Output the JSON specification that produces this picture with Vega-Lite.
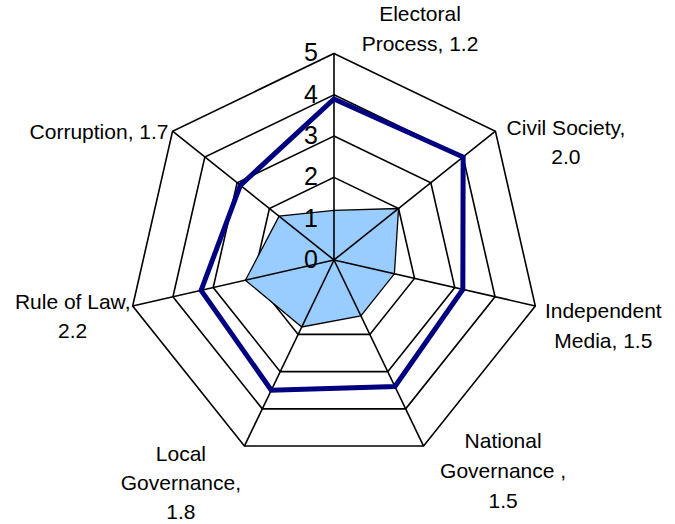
{
  "$schema": "https://vega.github.io/schema/vega-lite/v6.json",
  "width": 675,
  "height": 524,
  "padding": 0,
  "autosize": "none",
  "background": "white",
  "config": {"view": {"stroke": null}, "font": "Liberation Sans"},
  "datasets": {
    "axes": [
      {"i": 0, "name": "Electoral Process", "label": "Electoral\nProcess, 1.2", "score": 1.2, "avg": 3.9, "rings": [1, 2, 3, 4, 5]},
      {"i": 1, "name": "Civil Society", "label": "Civil Society,\n2.0", "score": 2.0, "avg": 4.0, "rings": [1, 2, 3, 4, 5]},
      {"i": 2, "name": "Independent Media", "label": "Independent\nMedia, 1.5", "score": 1.5, "avg": 3.2, "rings": [1, 2, 3, 4, 5]},
      {"i": 3, "name": "National Governance", "label": "National\nGovernance ,\n1.5", "score": 1.5, "avg": 3.4, "rings": [1, 2, 3, 4, 5]},
      {"i": 4, "name": "Local Governance", "label": "Local\nGovernance,\n1.8", "score": 1.8, "avg": 3.5, "rings": [1, 2, 3, 4, 5]},
      {"i": 5, "name": "Rule of Law", "label": "Rule of Law,\n2.2", "score": 2.2, "avg": 3.3, "rings": [1, 2, 3, 4, 5]},
      {"i": 6, "name": "Corruption", "label": "Corruption, 1.7", "score": 1.7, "avg": 2.9, "rings": [1, 2, 3, 4, 5]}
    ],
    "ticks": [{"t": 0}, {"t": 1}, {"t": 2}, {"t": 3}, {"t": 4}, {"t": 5}]
  },
  "data": {"name": "axes"},
  "transform": [
    {"calculate": "datum.i * 2 * PI / 7", "as": "ang"},
    {"calculate": "sin(datum.ang)", "as": "ux"},
    {"calculate": "cos(datum.ang)", "as": "uy"}
  ],
  "encoding": {
    "x": {"type": "quantitative", "scale": {"domain": [-8.087, 8.257], "nice": false, "zero": false}, "axis": null},
    "y": {"type": "quantitative", "scale": {"domain": [-6.392, 6.295], "nice": false, "zero": false}, "axis": null}
  },
  "layer": [
    {
      "transform": [
        {"flatten": ["rings"], "as": ["ring"]},
        {"calculate": "datum.ring * datum.ux", "as": "gx"},
        {"calculate": "datum.ring * datum.uy", "as": "gy"}
      ],
      "mark": {"type": "line", "interpolate": "linear-closed", "stroke": "black", "strokeWidth": 1.6},
      "encoding": {
        "x": {"field": "gx", "type": "quantitative"},
        "y": {"field": "gy", "type": "quantitative"},
        "detail": {"field": "ring", "type": "ordinal"},
        "order": {"field": "i", "type": "quantitative"}
      }
    },
    {
      "transform": [
        {"calculate": "datum.score * datum.ux", "as": "sx"},
        {"calculate": "datum.score * datum.uy", "as": "sy"}
      ],
      "mark": {"type": "line", "interpolate": "linear-closed", "fill": "#99CCFF", "stroke": "black", "strokeWidth": 1.3},
      "encoding": {
        "x": {"field": "sx", "type": "quantitative"},
        "y": {"field": "sy", "type": "quantitative"},
        "order": {"field": "i", "type": "quantitative"}
      }
    },
    {
      "transform": [
        {"calculate": "5 * datum.ux", "as": "ex"},
        {"calculate": "5 * datum.uy", "as": "ey"},
        {"calculate": "0", "as": "o"}
      ],
      "mark": {"type": "rule", "stroke": "black", "strokeWidth": 1.6},
      "encoding": {
        "x": {"field": "o", "type": "quantitative"},
        "y": {"field": "o", "type": "quantitative"},
        "x2": {"field": "ex"},
        "y2": {"field": "ey"}
      }
    },
    {
      "transform": [
        {"calculate": "datum.avg * datum.ux", "as": "ax"},
        {"calculate": "datum.avg * datum.uy", "as": "ay"}
      ],
      "mark": {"type": "line", "interpolate": "linear-closed", "stroke": "#000080", "strokeWidth": 5, "strokeJoin": "miter"},
      "encoding": {
        "x": {"field": "ax", "type": "quantitative"},
        "y": {"field": "ay", "type": "quantitative"},
        "order": {"field": "i", "type": "quantitative"}
      }
    },
    {
      "data": {"name": "ticks"},
      "transform": [{"calculate": "0", "as": "o"}],
      "mark": {"type": "text", "align": "right", "baseline": "middle", "dx": -16, "fontSize": 25, "color": "black"},
      "encoding": {
        "x": {"field": "o", "type": "quantitative"},
        "y": {"field": "t", "type": "quantitative"},
        "text": {"field": "t", "type": "quantitative"}
      }
    },
    {
      "transform": [{"filter": "datum.i == 0"}, {"calculate": "5 * datum.ux", "as": "ex"}, {"calculate": "5 * datum.uy", "as": "ey"}],
      "mark": {"type": "text", "align": "center", "baseline": "middle", "lineBreak": "\n", "lineHeight": 30, "fontSize": 21, "dx": 86, "dy": -38.5, "color": "black"},
      "encoding": {"x": {"field": "ex", "type": "quantitative"}, "y": {"field": "ey", "type": "quantitative"}, "text": {"field": "label"}}
    },
    {
      "transform": [{"filter": "datum.i == 1"}, {"calculate": "5 * datum.ux", "as": "ex"}, {"calculate": "5 * datum.uy", "as": "ey"}],
      "mark": {"type": "text", "align": "center", "baseline": "middle", "lineBreak": "\n", "lineHeight": 29, "fontSize": 21, "dx": 70.5, "dy": -2.3, "color": "black"},
      "encoding": {"x": {"field": "ex", "type": "quantitative"}, "y": {"field": "ey", "type": "quantitative"}, "text": {"field": "label"}}
    },
    {
      "transform": [{"filter": "datum.i == 2"}, {"calculate": "5 * datum.ux", "as": "ex"}, {"calculate": "5 * datum.uy", "as": "ey"}],
      "mark": {"type": "text", "align": "center", "baseline": "middle", "lineBreak": "\n", "lineHeight": 30, "fontSize": 21, "dx": 68, "dy": 6, "color": "black"},
      "encoding": {"x": {"field": "ex", "type": "quantitative"}, "y": {"field": "ey", "type": "quantitative"}, "text": {"field": "label"}}
    },
    {
      "transform": [{"filter": "datum.i == 3"}, {"calculate": "5 * datum.ux", "as": "ex"}, {"calculate": "5 * datum.uy", "as": "ey"}],
      "mark": {"type": "text", "align": "center", "baseline": "middle", "lineBreak": "\n", "lineHeight": 30, "fontSize": 21, "dx": 79.5, "dy": -4, "color": "black"},
      "encoding": {"x": {"field": "ex", "type": "quantitative"}, "y": {"field": "ey", "type": "quantitative"}, "text": {"field": "label"}}
    },
    {
      "transform": [{"filter": "datum.i == 4"}, {"calculate": "5 * datum.ux", "as": "ex"}, {"calculate": "5 * datum.uy", "as": "ey"}],
      "mark": {"type": "text", "align": "center", "baseline": "middle", "lineBreak": "\n", "lineHeight": 29, "fontSize": 21, "dx": -63.5, "dy": 9, "color": "black"},
      "encoding": {"x": {"field": "ex", "type": "quantitative"}, "y": {"field": "ey", "type": "quantitative"}, "text": {"field": "label"}}
    },
    {
      "transform": [{"filter": "datum.i == 5"}, {"calculate": "5 * datum.ux", "as": "ex"}, {"calculate": "5 * datum.uy", "as": "ey"}],
      "mark": {"type": "text", "align": "center", "baseline": "middle", "lineBreak": "\n", "lineHeight": 29, "fontSize": 21, "dx": -60, "dy": -3, "color": "black"},
      "encoding": {"x": {"field": "ex", "type": "quantitative"}, "y": {"field": "ey", "type": "quantitative"}, "text": {"field": "label"}}
    },
    {
      "transform": [{"filter": "datum.i == 6"}, {"calculate": "5 * datum.ux", "as": "ex"}, {"calculate": "5 * datum.uy", "as": "ey"}],
      "mark": {"type": "text", "align": "center", "baseline": "middle", "lineBreak": "\n", "lineHeight": 29, "fontSize": 21, "dx": -73.5, "dy": 1.7, "color": "black"},
      "encoding": {"x": {"field": "ex", "type": "quantitative"}, "y": {"field": "ey", "type": "quantitative"}, "text": {"field": "label"}}
    }
  ]
}
